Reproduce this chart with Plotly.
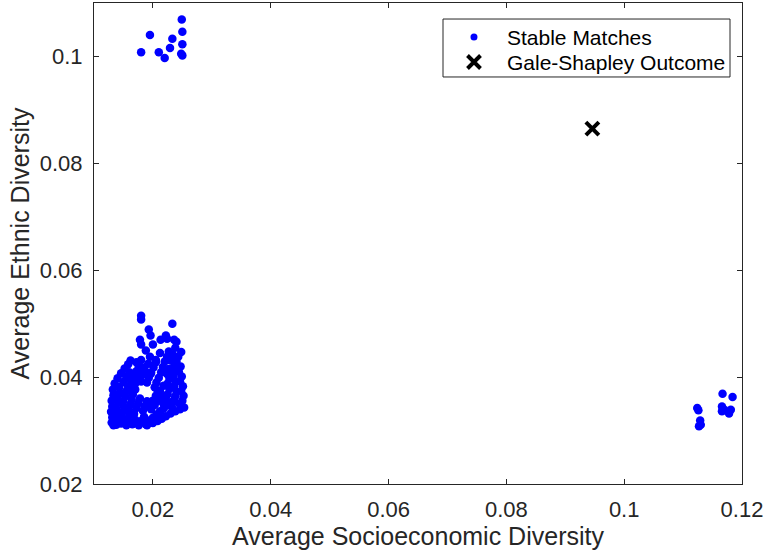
import plotly.graph_objects as go

# ---- data ----
# main (lower-left) cluster of stable matches
main_x = [
    0.0130, 0.0131, 0.0129, 0.0131, 0.0130, 0.0133, 0.0132, 0.0135, 0.0140, 0.0146, 0.0152, 0.0158, 0.0162,
    0.0138, 0.0139, 0.0141, 0.0138, 0.0142, 0.0140, 0.0144, 0.0143, 0.0150, 0.0155, 0.0160,
    0.0146, 0.0149, 0.0148, 0.0151, 0.0150, 0.0153, 0.0155, 0.0158, 0.0163, 0.0168, 0.0172, 0.0176,
    0.0155, 0.0158, 0.0160, 0.0159, 0.0162, 0.0164, 0.0166, 0.0170,
    0.0165, 0.0170, 0.0168, 0.0172, 0.0175, 0.0178, 0.0190, 0.0193, 0.0197, 0.0201, 0.0205,
    0.0176, 0.0180, 0.0185, 0.0183, 0.0186, 0.0190, 0.0203, 0.0206, 0.0210, 0.0214, 0.0217, 0.0220, 0.0224, 0.0227,
    0.0188, 0.0194, 0.0200, 0.0206, 0.0212, 0.0218, 0.0224, 0.0230, 0.0236,
    0.0200, 0.0208, 0.0215, 0.0222, 0.0230, 0.0238, 0.0246, 0.0253,
    0.0245, 0.0250, 0.0252, 0.0248, 0.0251, 0.0246, 0.0249, 0.0244, 0.0247, 0.0240, 0.0243, 0.0248,
    0.0232, 0.0235, 0.0238, 0.0240, 0.0236, 0.0239, 0.0235, 0.0233, 0.0236, 0.0230, 0.0234, 0.0238, 0.0240,
    0.0218, 0.0222, 0.0225, 0.0228, 0.0225, 0.0228, 0.0224, 0.0227,
    0.0195, 0.0188, 0.0180, 0.0200, 0.0178, 0.0213, 0.0224, 0.0236, 0.0196, 0.0222,
    0.0193, 0.0233, 0.0180, 0.0180, 0.0212, 0.0205, 0.0192, 0.0185, 0.0172, 0.0180,
    0.0133, 0.0190, 0.0172,
    0.0197, 0.0203, 0.0210, 0.0215, 0.0212, 0.0218, 0.0205, 0.0195, 0.0200, 0.0188,
    0.0170, 0.0175, 0.0182, 0.0188, 0.0178, 0.0196, 0.0208, 0.0165, 0.0160, 0.0180,
]
main_y = [
    0.0315, 0.0325, 0.0335, 0.0345, 0.0356, 0.0366, 0.0377, 0.0388, 0.0398, 0.0407, 0.0416, 0.0424, 0.0431,
    0.0311, 0.0322, 0.0331, 0.0341, 0.0352, 0.0362, 0.0371, 0.0382, 0.0391, 0.0400, 0.0409,
    0.0313, 0.0323, 0.0334, 0.0344, 0.0355, 0.0364, 0.0374, 0.0383, 0.0393, 0.0402, 0.0411, 0.0420,
    0.0310, 0.0319, 0.0329, 0.0340, 0.0349, 0.0358, 0.0368, 0.0377,
    0.0312, 0.0320, 0.0331, 0.0342, 0.0351, 0.0360, 0.0390, 0.0399, 0.0408, 0.0418, 0.0428,
    0.0310, 0.0318, 0.0326, 0.0337, 0.0346, 0.0355, 0.0381, 0.0390, 0.0399, 0.0409, 0.0419, 0.0429, 0.0438, 0.0448,
    0.0312, 0.0319, 0.0324, 0.0330, 0.0336, 0.0341, 0.0347, 0.0352, 0.0357,
    0.0314, 0.0318, 0.0322, 0.0327, 0.0332, 0.0336, 0.0340, 0.0343,
    0.0350, 0.0356, 0.0365, 0.0374, 0.0383, 0.0392, 0.0401, 0.0410, 0.0420, 0.0429, 0.0438, 0.0447,
    0.0345, 0.0355, 0.0364, 0.0373, 0.0383, 0.0392, 0.0401, 0.0411, 0.0420, 0.0431, 0.0442, 0.0455, 0.0466,
    0.0350, 0.0359, 0.0368, 0.0378, 0.0388, 0.0397, 0.0406, 0.0415,
    0.0438, 0.0450, 0.0461, 0.0461, 0.0470, 0.0470, 0.0472, 0.0470, 0.0478, 0.0478,
    0.0489, 0.0500, 0.0508, 0.0515, 0.0445, 0.0432, 0.0425, 0.0418, 0.0428, 0.0432,
    0.0310, 0.0310, 0.0314,
    0.0340, 0.0348, 0.0356, 0.0364, 0.0374, 0.0384, 0.0365, 0.0347, 0.0356, 0.0345,
    0.0388, 0.0397, 0.0404, 0.0410, 0.0414, 0.0406, 0.0375, 0.0385, 0.0380, 0.0392,
]

# upper-left cluster
top_x = [0.0249, 0.0195, 0.0250, 0.0233, 0.0229, 0.0250, 0.0180, 0.0210, 0.0220, 0.0248, 0.0250]
top_y = [0.1069, 0.1040, 0.1046, 0.1033, 0.1016, 0.1023, 0.1008, 0.1008, 0.0997, 0.1005, 0.1002]

# lower-right cluster
right_x = [0.1167, 0.1184, 0.1124, 0.1126, 0.1129, 0.1130, 0.1127, 0.1166, 0.1166, 0.1181, 0.1178, 0.1170]
right_y = [0.0369, 0.0363, 0.0342, 0.0338, 0.0319, 0.0311, 0.0308, 0.0345, 0.0336, 0.0339, 0.0332, 0.0339]

# Gale-Shapley outcome
gs_x = [0.0946]
gs_y = [0.0865]

series_names = ["Stable Matches", "Gale-Shapley Outcome"]

x_ticks = [0.02, 0.04, 0.06, 0.08, 0.1, 0.12]
x_tick_labels = ["0.02", "0.04", "0.06", "0.08", "0.1", "0.12"]
y_ticks = [0.02, 0.04, 0.06, 0.08, 0.1]
y_tick_labels = ["0.02", "0.04", "0.06", "0.08", "0.1"]

# ---- build ----
sx = main_x + top_x + right_x
sy = main_y + top_y + right_y

txt = "#262626"
font = "Liberation Sans, Arial, sans-serif"
blue = "#0000ff"

fig = go.Figure()
fig.add_trace(go.Scatter(
    x=sx, y=sy, mode="markers", name=series_names[0], showlegend=False,
    marker=dict(color=blue, size=8.5, line=dict(width=0)),
))
fig.add_trace(go.Scatter(
    x=gs_x, y=gs_y, mode="markers", name=series_names[1], showlegend=False,
    marker=dict(symbol="x-thin", size=13, color="black",
                line=dict(width=4, color="black")),
))

# legend (MATLAB style box), drawn on an overlay axis spanning the plot area [0,1]
leg_left, leg_right, leg_top, leg_bottom = 0.5386, 0.9815, 0.9667, 0.8462
row_y = [0.9293, 0.8773]
sym_x = 0.5864
text_x = 0.6343
fig.add_trace(go.Scatter(
    x=[sym_x], y=[row_y[0]], mode="markers", xaxis="x2", yaxis="y2",
    showlegend=False, hoverinfo="skip",
    marker=dict(color=blue, size=7, line=dict(width=0)),
))
fig.add_trace(go.Scatter(
    x=[sym_x], y=[row_y[1]], mode="markers", xaxis="x2", yaxis="y2",
    showlegend=False, hoverinfo="skip",
    marker=dict(symbol="x-thin", size=13, color="black", line=dict(width=4, color="black")),
))
fig.add_shape(type="rect", xref="x2", yref="y2",
              x0=leg_left, x1=leg_right, y0=leg_bottom, y1=leg_top,
              line=dict(color=txt, width=1), fillcolor="white", layer="below")
for name, ry in zip(series_names, row_y):
    fig.add_annotation(x=text_x, y=ry, xref="x2", yref="y2", text=name,
                       showarrow=False, xanchor="left", yanchor="middle",
                       font=dict(family=font, size=21, color="black"))

axis_common = dict(
    showgrid=False, zeroline=False, showline=True, linecolor=txt, linewidth=1,
    mirror="ticks", ticks="inside", ticklen=5, tickcolor=txt,
    tickfont=dict(family=font, size=22, color=txt),
)
fig.update_layout(
    width=766, height=554,
    margin=dict(l=94, r=24, t=3, b=70),
    plot_bgcolor="white", paper_bgcolor="white",
    font=dict(family=font, color=txt),
    xaxis=dict(range=[0.01, 0.12], tickvals=x_ticks, ticktext=x_tick_labels,
               ticklabelstandoff=6,
               title=dict(text="Average Socioeconomic Diversity",
                          font=dict(family=font, size=25, color=txt), standoff=1),
               **axis_common),
    yaxis=dict(range=[0.02, 0.11], tickvals=y_ticks, ticktext=y_tick_labels,
               ticklabelstandoff=6,
               title=dict(text="Average Ethnic Diversity",
                          font=dict(family=font, size=25, color=txt), standoff=3),
               **axis_common),
    xaxis2=dict(range=[0, 1], overlaying="x", visible=False, fixedrange=True),
    yaxis2=dict(range=[0, 1], overlaying="y", visible=False, fixedrange=True),
    showlegend=False,
)
fig.write_html("out.html")
